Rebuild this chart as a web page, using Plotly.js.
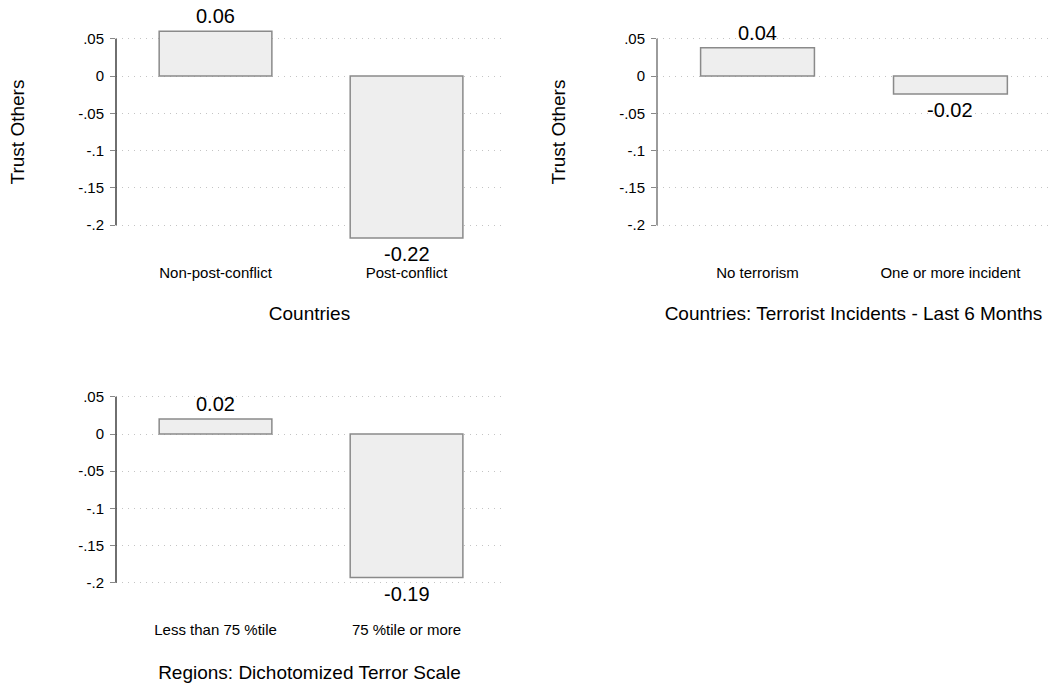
<!DOCTYPE html>
<html>
<head>
<meta charset="utf-8">
<script src="https://cdn.plot.ly/plotly-3.0.1.min.js"></script>
<style>html,body{margin:0;padding:0;background:#fff;}#chart{width:1053px;height:687px;}</style>
</head>
<body>
<div id="chart"></div>
<script>
// ---- data ----
const cats1 = ['Non-post-conflict', 'Post-conflict'];
const vals1 = [0.060, -0.217];
const cats2 = ['No terrorism', 'One or more incident'];
const vals2 = [0.038, -0.024];
const cats3 = ['Less than 75 %tile', '75 %tile or more'];
const vals3 = [0.020, -0.193];
const xTitles = ['Countries', 'Countries: Terrorist Incidents - Last 6 Months', 'Regions: Dichotomized Terror Scale'];
const yTitle = 'Trust Others';
const yTickVals = [-0.2, -0.15, -0.1, -0.05, 0, 0.05];
const yTickText = ['-.2', '-.15', '-.1', '-.05', '0', '.05'];

// ---- layout helpers ----
const W = 1053, H = 687;
const FONT = 'Liberation Sans, Arial, sans-serif';
const px = v => v / W;
const py = v => 1 - v / H;

const panels = [
  {cats: cats1, vals: vals1, xa: 'x', ya: 'y',  xd: [116, 503],  yd: [2, 262],   zero: 76,  scale: 746, xr: [-0.521, 1.505], axisColor: '#222', ytitle: true,  standoff: 26},
  {cats: cats2, vals: vals2, xa: 'x2', ya: 'y2', xd: [657, 1050], yd: [2, 262],   zero: 76,  scale: 746, xr: [-0.521, 1.516], axisColor: '#666', ytitle: true,  standoff: 26},
  {cats: cats3, vals: vals3, xa: 'x3', ya: 'y3', xd: [116, 503],  yd: [360, 619], zero: 434, scale: 744, xr: [-0.521, 1.505], axisColor: '#222', ytitle: false, standoff: 28}
];

const traces = [];
const layout = {
  width: W, height: H,
  margin: {l: 0, r: 0, t: 0, b: 0},
  paper_bgcolor: '#fff', plot_bgcolor: '#fff',
  showlegend: false,
  font: {family: FONT, color: '#000'},
  annotations: [], shapes: []
};

panels.forEach((p, i) => {
  traces.push({
    type: 'bar', x: p.cats, y: p.vals, xaxis: p.xa, yaxis: p.ya,
    width: 0.59, cliponaxis: false,
    marker: {color: '#eeeeee', line: {color: '#8a8a8a', width: 1.5}},
    hoverinfo: 'x+y'
  });
  const sfx = i === 0 ? '' : String(i + 1);
  const yr = [(p.zero - p.yd[1]) / p.scale, (p.zero - p.yd[0]) / p.scale];
  layout['xaxis' + sfx] = {
    domain: [px(p.xd[0]), px(p.xd[1])], anchor: p.ya, range: p.xr,
    type: 'category', showgrid: false, showline: false, zeroline: false, ticks: '',
    tickfont: {size: 15, family: FONT, color: '#000'},
    title: {text: xTitles[i], font: {size: 19, family: FONT, color: '#000'}, standoff: p.standoff},
    fixedrange: true
  };
  layout['yaxis' + sfx] = {
    domain: [py(p.yd[1]), py(p.yd[0])], anchor: p.xa, range: yr,
    tickmode: 'array', tickvals: yTickVals, ticktext: yTickText,
    ticks: 'outside', ticklen: 5, tickwidth: 1, tickcolor: '#888',
    ticklabelstandoff: 3,
    tickfont: {size: 15, family: FONT, color: '#000'},
    showgrid: true, gridcolor: '#c4c4c4', gridwidth: 1, griddash: '1px,5px',
    zeroline: false, showline: false,
    title: p.ytitle ? {text: yTitle, font: {size: 19, family: FONT, color: '#000'}, standoff: 48} : {text: ''},
    fixedrange: true
  };
  // y axis line spanning only the labelled scale
  layout.shapes.push({
    type: 'line', xref: p.xa + ' domain', yref: p.ya,
    x0: 0, x1: 0, y0: yTickVals[0], y1: yTickVals[yTickVals.length - 1],
    line: {color: p.axisColor, width: 1.3}
  });
  // value labels
  p.vals.forEach((v, j) => {
    layout.annotations.push({
      xref: p.xa, yref: p.ya, x: p.cats[j], y: v,
      text: v.toFixed(2), showarrow: false,
      yanchor: v >= 0 ? 'bottom' : 'top',
      yshift: v >= 0 ? 2 : -3,
      font: {size: 20, family: FONT, color: '#000'}
    });
  });
});

Plotly.newPlot('chart', traces, layout, {displayModeBar: false, staticPlot: true});
</script>
</body>
</html>
